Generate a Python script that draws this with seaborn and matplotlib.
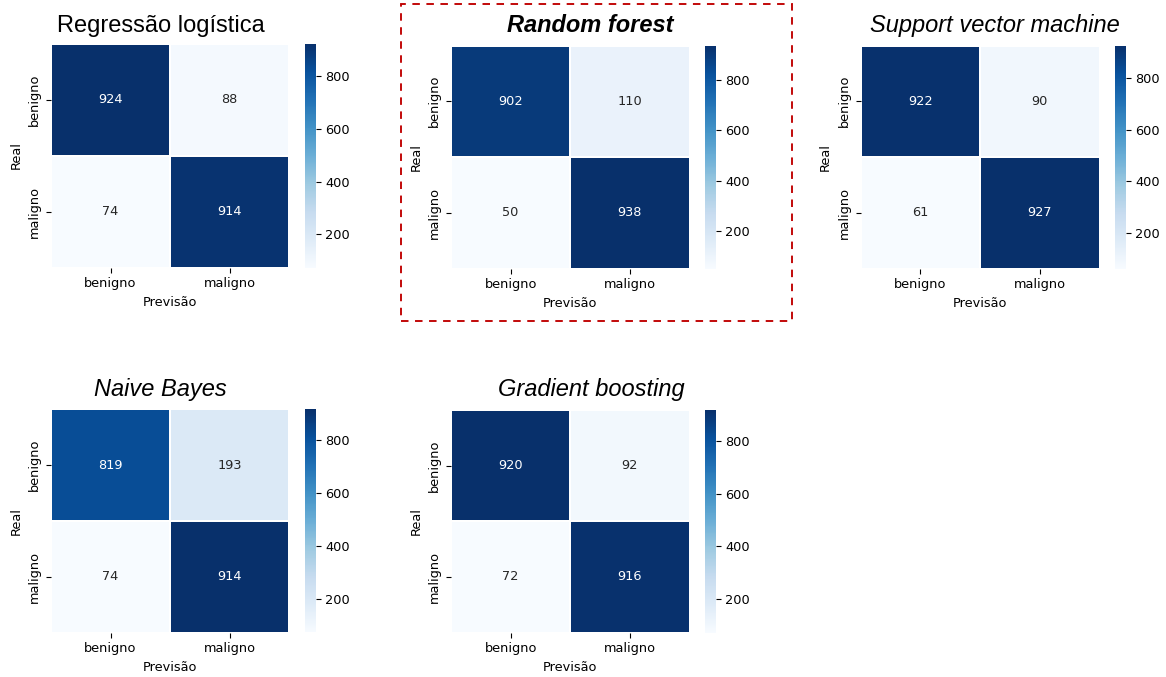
import numpy as np
import pandas as pd
import matplotlib
matplotlib.use("Agg")
import matplotlib.pyplot as plt
from matplotlib.patches import Rectangle
import seaborn as sns

# Confusion matrices (rows = real class, columns = predicted class)
classes = ["benigno", "maligno"]
model_names = ["Regressão logística", "Random forest", "Support vector machine",
               "Naive Bayes", "Gradient boosting"]
cm_logistic = [[924, 88], [74, 914]]
cm_forest = [[902, 110], [50, 938]]
cm_svm = [[922, 90], [61, 927]]
cm_bayes = [[819, 193], [74, 914]]
cm_boosting = [[920, 92], [72, 916]]
matrices = [cm_logistic, cm_forest, cm_svm, cm_bayes, cm_boosting]

W, H = 1166, 677
fig = plt.figure(figsize=(W / 100, H / 100), dpi=100)
fig.patch.set_facecolor("white")


def fig_box(x0, y0, x1, y1):
    """Pixel box (top-left origin) -> figure fraction rect."""
    return [x0 / W, 1 - y1 / H, (x1 - x0) / W, (y1 - y0) / H]


# heatmap boxes, colorbar boxes, title anchors (pixels)
heat_boxes = [(51, 43.5, 289, 267.5), (451, 45.5, 689.5, 268.5), (860.5, 45.5, 1099.5, 268.5),
              (51, 409.5, 289, 632.5), (451, 410, 689.5, 632.5)]
cbar_boxes = [(305, 43.5, 315.5, 267.5), (705, 45.5, 715.5, 268.5), (1115, 45.5, 1125.5, 268.5),
              (305, 409.5, 315.5, 632.5), (705, 410, 715.5, 632.5)]
title_pos = [(161, 31.7), (590.5, 31.7), (995, 32), (160.5, 396), (591, 396)]
title_style = [("normal", "normal"), ("italic", "bold"), ("italic", "normal"),
               ("italic", "normal"), ("italic", "normal")]

fs = 9.3
for cm, hb, cb, name, (tx, ty), (fst, fw) in zip(matrices, heat_boxes, cbar_boxes,
                                                   model_names, title_pos, title_style):
    df = pd.DataFrame(np.array(cm), index=classes, columns=classes)
    ax = fig.add_axes(fig_box(*hb))
    cax = fig.add_axes(fig_box(*cb))
    sns.heatmap(df, ax=ax, cbar_ax=cax, cmap="Blues", annot=True, fmt="d",
                linewidths=0.3, linecolor="white", annot_kws={"fontsize": fs})
    ax.set_xlabel("Previsão", fontsize=fs)
    ax.set_ylabel("Real", fontsize=fs)
    ax.tick_params(labelsize=fs)
    plt.setp(ax.get_yticklabels(), rotation=90, va="center")
    plt.setp(ax.get_xticklabels(), rotation=0)
    cax.tick_params(labelsize=fs)
    fig.text(tx / W, 1 - ty / H, name, ha="center", va="baseline",
             fontsize=17, fontstyle=fst, fontweight=fw,
             family=["Liberation Sans", "DejaVu Sans"])

# highlight frame around the Random forest panel
lw = 1.35
frame = Rectangle((400.5 / W, 1 - 320.7 / H), (791.7 - 400.5) / W, (320.7 - 4) / H,
                  transform=fig.transFigure, fill=False, edgecolor="#C00000",
                  linewidth=lw, linestyle=(0, (5.4 / lw, 4.7 / lw)), capstyle="butt")
fig.add_artist(frame)

fig.savefig("out.png", dpi=100, facecolor="white")
